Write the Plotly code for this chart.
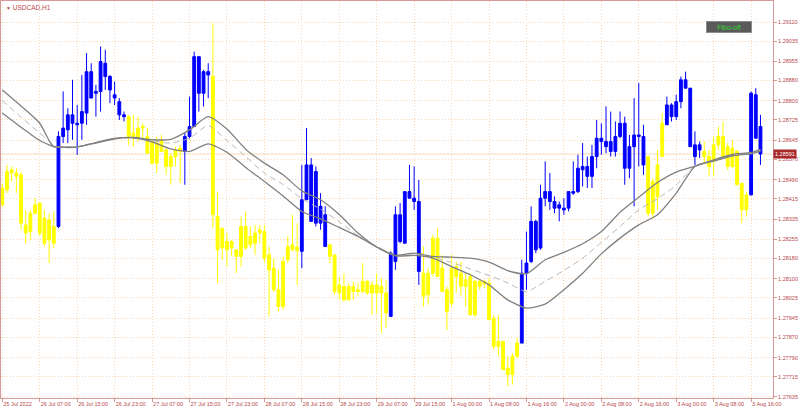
import plotly.graph_objects as go

# ---------------- data (USDCAD, H1) ----------------
time_labels = ["25 Jul 2022", "26 Jul 07:00", "26 Jul 15:00", "26 Jul 23:00", "27 Jul 07:00",
               "27 Jul 15:00", "27 Jul 23:00", "28 Jul 07:00", "28 Jul 15:00", "28 Jul 23:00",
               "29 Jul 07:00", "29 Jul 15:00", "1 Aug 00:00", "1 Aug 08:00", "1 Aug 16:00",
               "2 Aug 00:00", "2 Aug 08:00", "2 Aug 16:00", "3 Aug 00:00", "3 Aug 08:00",
               "3 Aug 16:00"]
time_label_bars = [0, 8, 16, 24, 32, 40, 48, 56, 64, 72, 80, 88, 96, 104, 112, 120, 128, 136, 144, 152, 160]

price_ticks = [1.29110, 1.29035, 1.28955, 1.28880, 1.28800, 1.28725, 1.28645, 1.28570, 1.28490,
               1.28415, 1.28335, 1.28255, 1.28180, 1.28100, 1.28025, 1.27945, 1.27870, 1.27790,
               1.27715, 1.27635]

opens = [
    1.28457, 1.28522, 1.28529, 1.28516, 1.28509, 1.28312, 1.28358, 1.28391, 1.28398, 1.28339,
    1.28332, 1.28306, 1.28306, 1.28660, 1.28686, 1.28712, 1.28706, 1.28712, 1.28752, 1.28811,
    1.28830, 1.28837, 1.28896, 1.28843, 1.28811, 1.28745, 1.28738, 1.28738, 1.28673, 1.28693,
    1.28699, 1.28660, 1.28640, 1.28634, 1.28647, 1.28607, 1.28581, 1.28607, 1.28614, 1.28601,
    1.28660, 1.28699, 1.28830, 1.28830, 1.28902, 1.28896, 1.28345, 1.28299, 1.28247, 1.28247,
    1.28214, 1.28306, 1.28306, 1.28267, 1.28280, 1.28293, 1.28286, 1.28194, 1.28142, 1.28057,
    1.28168, 1.28227, 1.28234, 1.28225, 1.28208, 1.28411, 1.28326, 1.28319, 1.28319, 1.28227,
    1.28234, 1.28194, 1.28076, 1.28070, 1.28070, 1.28070, 1.28057, 1.28090, 1.28090, 1.28076,
    1.28076, 1.28070, 1.28044, 1.27952, 1.28168, 1.28247, 1.28240, 1.28417, 1.28404, 1.28129,
    1.28122, 1.28122, 1.28260, 1.28260, 1.28142, 1.28057, 1.28142, 1.28148, 1.28122, 1.28096,
    1.28109, 1.28090, 1.28090, 1.28090, 1.28083, 1.27945, 1.27854, 1.27854, 1.27749, 1.27795,
    1.27847, 1.27847, 1.28122, 1.28168, 1.28214, 1.28221, 1.28417, 1.28404, 1.28378, 1.28378,
    1.28371, 1.28378, 1.28437, 1.28443, 1.28529, 1.28503, 1.28503, 1.28581, 1.28640, 1.28620,
    1.28601, 1.28601, 1.28660, 1.28535, 1.28535, 1.28620, 1.28660, 1.28548, 1.28581, 1.28483,
    1.28548, 1.28712, 1.28706, 1.28738, 1.28738, 1.28797, 1.28850, 1.28620, 1.28581, 1.28607,
    1.28601, 1.28581, 1.28627, 1.28660, 1.28660, 1.28620, 1.28614, 1.28601, 1.28476, 1.28430,
    1.28430, 1.28653, 1.28699]

highs = [
    1.28476, 1.28548, 1.28542, 1.28535, 1.28522, 1.28371, 1.28371, 1.28417, 1.28398, 1.28371,
    1.28358, 1.28365, 1.28680, 1.28837, 1.28771, 1.28883, 1.28784, 1.28902, 1.28988, 1.28948,
    1.28863, 1.29014, 1.29001, 1.28902, 1.28876, 1.28811, 1.28758, 1.28745, 1.28745, 1.28738,
    1.28712, 1.28693, 1.28647, 1.28660, 1.28666, 1.28620, 1.28594, 1.28620, 1.28627, 1.28673,
    1.28817, 1.28994, 1.28974, 1.28922, 1.28948, 1.29106, 1.28443, 1.28299, 1.28280, 1.28253,
    1.28214, 1.28345, 1.28365, 1.28306, 1.28312, 1.28312, 1.28312, 1.28227, 1.28181, 1.28135,
    1.28188, 1.28267, 1.28352, 1.28319, 1.28548, 1.28693, 1.28575, 1.28542, 1.28437, 1.28385,
    1.28234, 1.28194, 1.28109, 1.28122, 1.28083, 1.28090, 1.28083, 1.28162, 1.28096, 1.28090,
    1.28122, 1.28103, 1.28096, 1.28208, 1.28385, 1.28398, 1.28443, 1.28548, 1.28542, 1.28489,
    1.28227, 1.28142, 1.28273, 1.28299, 1.28194, 1.28070, 1.28194, 1.28168, 1.28168, 1.28122,
    1.28122, 1.28096, 1.28096, 1.28096, 1.28103, 1.27958, 1.27958, 1.27854, 1.27795, 1.27808,
    1.27867, 1.28175, 1.28286, 1.28385, 1.28332, 1.28470, 1.28562, 1.28516, 1.28424, 1.28404,
    1.28417, 1.28443, 1.28562, 1.28588, 1.28634, 1.28581, 1.28627, 1.28725, 1.28712, 1.28778,
    1.28758, 1.28719, 1.28758, 1.28738, 1.28666, 1.28811, 1.28870, 1.28706, 1.28581, 1.28496,
    1.28607, 1.28752, 1.28817, 1.28791, 1.28824, 1.28896, 1.28915, 1.28850, 1.28680, 1.28640,
    1.28640, 1.28607, 1.28660, 1.28699, 1.28719, 1.28634, 1.28647, 1.28607, 1.28476, 1.28443,
    1.28837, 1.28850, 1.28745]

lows = [
    1.28384, 1.28437, 1.28483, 1.28437, 1.28293, 1.28240, 1.28253, 1.28352, 1.28267, 1.28227,
    1.28162, 1.28221, 1.28299, 1.28634, 1.28634, 1.28647, 1.28588, 1.28647, 1.28706, 1.28811,
    1.28738, 1.28758, 1.28843, 1.28791, 1.28784, 1.28725, 1.28719, 1.28627, 1.28620, 1.28640,
    1.28647, 1.28594, 1.28548, 1.28516, 1.28601, 1.28509, 1.28470, 1.28542, 1.28476, 1.28470,
    1.28653, 1.28699, 1.28758, 1.28778, 1.28811, 1.28299, 1.28083, 1.28175, 1.28148, 1.28188,
    1.28122, 1.28148, 1.28214, 1.28221, 1.28194, 1.28240, 1.28162, 1.27952, 1.28050, 1.27971,
    1.27978, 1.28162, 1.28208, 1.28076, 1.28142, 1.28411, 1.28326, 1.28306, 1.28293, 1.28227,
    1.28162, 1.28037, 1.28017, 1.28011, 1.28017, 1.28017, 1.28031, 1.28044, 1.28037, 1.27958,
    1.27965, 1.27886, 1.27906, 1.27952, 1.28135, 1.28240, 1.28240, 1.28417, 1.28371, 1.28076,
    1.27991, 1.27998, 1.28109, 1.28109, 1.28050, 1.27899, 1.27991, 1.28044, 1.28031, 1.27991,
    1.27958, 1.27952, 1.28057, 1.28063, 1.27939, 1.27821, 1.27795, 1.27742, 1.27677, 1.27683,
    1.27788, 1.27847, 1.28057, 1.28162, 1.28201, 1.28214, 1.28385, 1.28371, 1.28358, 1.28326,
    1.28352, 1.28365, 1.28430, 1.28437, 1.28463, 1.28457, 1.28457, 1.28535, 1.28588, 1.28594,
    1.28581, 1.28581, 1.28653, 1.28470, 1.28496, 1.28385, 1.28542, 1.28509, 1.28345, 1.28339,
    1.28371, 1.28581, 1.28706, 1.28719, 1.28725, 1.28771, 1.28850, 1.28620, 1.28548, 1.28575,
    1.28555, 1.28503, 1.28503, 1.28607, 1.28575, 1.28529, 1.28535, 1.28470, 1.28319, 1.28345,
    1.28430, 1.28653, 1.28548]

closes = [
    1.28391, 1.28450, 1.28516, 1.28503, 1.28319, 1.28280, 1.28286, 1.28358, 1.28280, 1.28240,
    1.28253, 1.28240, 1.28660, 1.28693, 1.28745, 1.28745, 1.28712, 1.28758, 1.28915, 1.28915,
    1.28837, 1.28955, 1.28948, 1.28896, 1.28824, 1.28797, 1.28745, 1.28660, 1.28660, 1.28653,
    1.28693, 1.28594, 1.28555, 1.28555, 1.28601, 1.28542, 1.28542, 1.28581, 1.28601, 1.28660,
    1.28699, 1.28974, 1.28974, 1.28915, 1.28915, 1.28352, 1.28214, 1.28221, 1.28214, 1.28221,
    1.28188, 1.28188, 1.28221, 1.28234, 1.28240, 1.28280, 1.28181, 1.28135, 1.28057, 1.27991,
    1.27991, 1.28175, 1.28214, 1.28211, 1.28411, 1.28548, 1.28548, 1.28522, 1.28385, 1.28352,
    1.28188, 1.28050, 1.28044, 1.28017, 1.28017, 1.28050, 1.28050, 1.28050, 1.28044, 1.28044,
    1.28044, 1.28044, 1.27965, 1.28201, 1.28352, 1.28352, 1.28443, 1.28443, 1.28417, 1.28404,
    1.28031, 1.28037, 1.28122, 1.28109, 1.28050, 1.27971, 1.28004, 1.28109, 1.28070, 1.28070,
    1.27958, 1.27958, 1.28070, 1.28080, 1.27939, 1.27834, 1.27834, 1.27742, 1.27723, 1.27723,
    1.27795, 1.28122, 1.28162, 1.28326, 1.28326, 1.28417, 1.28443, 1.28443, 1.28404, 1.28391,
    1.28378, 1.28443, 1.28443, 1.28535, 1.28542, 1.28542, 1.28581, 1.28653, 1.28653, 1.28640,
    1.28640, 1.28660, 1.28712, 1.28712, 1.28620, 1.28666, 1.28666, 1.28660, 1.28358, 1.28358,
    1.28424, 1.28581, 1.28784, 1.28784, 1.28797, 1.28883, 1.28883, 1.28850, 1.28627, 1.28627,
    1.28581, 1.28542, 1.28562, 1.28627, 1.28581, 1.28542, 1.28542, 1.28470, 1.28371, 1.28371,
    1.28830, 1.28824, 1.28591]

# trend colour of each bar: B = blue, Y = yellow
trend = ("YYYYYYYYYYYY" "BBBBBBBBBBBBBBB" "YYYYYYYYYYYY" "BBBBBB" "YYYYYYYYYYYYYYYYYYY"
         "BBBBBB" "YYYYYYYYYYYYY" "BBBBBBB" "YYYYYYYYYYYYYYYYYYYYY"
         "BBBBBBBBBBBBBBBBBBBBBBBBBBB" "YYYY" "BBBBBBBB" "YYYYYYYYYY" "BBB")

# channel (upper / middle / lower) sampled at these bars
ma_bars = [0, 4, 8, 10, 11, 12, 16, 20, 24, 28, 32, 36, 40, 44, 48, 52, 56, 60, 64, 68, 72, 76,
           80, 84, 88, 92, 96, 100, 104, 108, 112, 116, 120, 124, 128, 132, 136, 140, 144, 148,
           152, 156, 160, 162]
ma_upper = [1.28843, 1.28780, 1.28712, 1.28644, 1.28620, 1.28619, 1.28619, 1.28634, 1.28651,
            1.28656, 1.28647, 1.28649, 1.28686, 1.28738, 1.28689, 1.28610, 1.28555, 1.28509,
            1.28446, 1.28411, 1.28353, 1.28280, 1.28225, 1.28192, 1.28201, 1.28188, 1.28185,
            1.28181, 1.28166, 1.28132, 1.28120, 1.28175, 1.28204, 1.28238, 1.28286, 1.28362,
            1.28421, 1.28479, 1.28520, 1.28543, 1.28568, 1.28589, 1.28597, 1.28609]
ma_middle = [1.28801, 1.28736, 1.28673, 1.28643, 1.28623, 1.28619, 1.28619, 1.28636, 1.28652,
             1.28655, 1.28643, 1.28634, 1.28653, 1.28703, 1.28644, 1.28581, 1.28516, 1.28471,
             1.28415, 1.28374, 1.28324, 1.28270, 1.28227, 1.28194, 1.28198, 1.28185, 1.28164,
             1.28139, 1.28113, 1.28084, 1.28050, 1.28090, 1.28133, 1.28181, 1.28243, 1.28306,
             1.28371, 1.28415, 1.28468, 1.28544, 1.28565, 1.28586, 1.28594, 1.28606]
ma_lower = [1.28752, 1.28696, 1.28644, 1.28627, 1.28620, 1.28618, 1.28618, 1.28636, 1.28652,
            1.28655, 1.28639, 1.28611, 1.28601, 1.28631, 1.28598, 1.28538, 1.28483, 1.28426,
            1.28365, 1.28336, 1.28302, 1.28267, 1.28225, 1.28190, 1.28192, 1.28181, 1.28148,
            1.28116, 1.28076, 1.28017, 1.27985, 1.28000, 1.28057, 1.28122, 1.28198, 1.28260,
            1.28312, 1.28352, 1.28437, 1.28542, 1.28563, 1.28584, 1.28592, 1.28602]

symbol_title = "USDCAD,H1"
button_text = "Fibo-off"

assert len(opens) == len(highs) == len(lows) == len(closes) == len(trend) == 163

# ---------------- styling ----------------
BLUE = "#0000FF"
YELLOW = "#FFFF00"
AXIS_COL = "#D49A9A"
TEXT_COL = "#B8484A"
GRID_COL = "#F7D7B8"
FONT = "Liberation Sans, Arial, sans-serif"

fig = go.Figure()

for code, col in (("Y", YELLOW), ("B", BLUE)):
    idx = [i for i, t in enumerate(trend) if t == code]
    style = dict(line=dict(color=col, width=1), fillcolor=col)
    fig.add_trace(go.Candlestick(
        x=idx,
        open=[opens[i] for i in idx],
        high=[highs[i] for i in idx],
        low=[lows[i] for i in idx],
        close=[closes[i] for i in idx],
        increasing=style, decreasing=style,
        whiskerwidth=0, hoverinfo="skip", showlegend=False,
    ))

fig.add_trace(go.Scatter(x=ma_bars, y=ma_middle, mode="lines", hoverinfo="skip",
                         line=dict(color="#B8B8B8", width=1, dash="6px,4px", shape="spline", smoothing=0.6),
                         showlegend=False))
for series in (ma_upper, ma_lower):
    fig.add_trace(go.Scatter(x=ma_bars, y=series, mode="lines", hoverinfo="skip",
                             line=dict(color="#808080", width=1.3, shape="spline", smoothing=0.6),
                             showlegend=False))

last_price = closes[-1]

# bid line
fig.add_shape(type="line", xref="paper", x0=0, x1=1, yref="y", y0=last_price, y1=last_price,
              line=dict(color="#F8D8B8", width=1), layer="below")

annotations = [
    dict(xref="paper", yref="paper", x=0, y=1, xanchor="left", yanchor="top", xshift=3, yshift=-1,
         text="<span style='font-size:5px'>▼</span> " + symbol_title, showarrow=False,
         font=dict(family=FONT, size=6.5, color=TEXT_COL)),
    dict(xref="paper", yref="paper", x=0.9426, y=0.9336, xanchor="center", yanchor="middle",
         text=button_text, showarrow=False, width=44, height=10, bgcolor="#5A5A5A",
         bordercolor="#8C8C8C", borderwidth=1, borderpad=0,
         font=dict(family=FONT, size=7, color="#2ED82E")),
    dict(xref="paper", yref="y", x=1, y=last_price, xanchor="left", yanchor="middle", xshift=0,
         text=f"{last_price:.5f}", showarrow=False, bgcolor="#A8282A", borderpad=1,
         font=dict(family=FONT, size=5.5, color="#FFFFFF")),
]

fig.update_layout(
    width=800, height=411, autosize=False,
    margin=dict(l=1, r=27, t=1, b=13, pad=0),
    paper_bgcolor="#FFFFFF", plot_bgcolor="#FFFFFF",
    boxgap=0.4, boxgroupgap=0,
    showlegend=False,
    annotations=annotations,
    xaxis=dict(
        range=[-0.28, 164.68], rangeslider=dict(visible=False),
        tickmode="array", tickvals=time_label_bars, ticktext=time_labels,
        tickangle=0, ticklabelposition="outside right",
        ticks="outside", ticklen=3, tickcolor=AXIS_COL,
        tickfont=dict(family=FONT, size=5.5, color=TEXT_COL),
        showgrid=True, gridcolor=GRID_COL, griddash="1px,2px", gridwidth=1,
        showline=True, linecolor=AXIS_COL, linewidth=1, mirror=True,
        zeroline=False, fixedrange=True,
    ),
    yaxis=dict(
        side="right", range=[1.27631, 1.29193],
        tickmode="array", tickvals=price_ticks, ticktext=[f"{v:.5f}" for v in price_ticks],
        ticks="outside", ticklen=3, tickcolor=AXIS_COL,
        tickfont=dict(family=FONT, size=5.5, color=TEXT_COL),
        showgrid=True, gridcolor=GRID_COL, griddash="1px,2px", gridwidth=1,
        showline=True, linecolor=AXIS_COL, linewidth=1, mirror=True,
        zeroline=False, fixedrange=True,
    ),
)

fig.write_html("out.html", config={"displayModeBar": False},
               post_script="document.body.style.margin='0';document.body.style.overflow='hidden';")
